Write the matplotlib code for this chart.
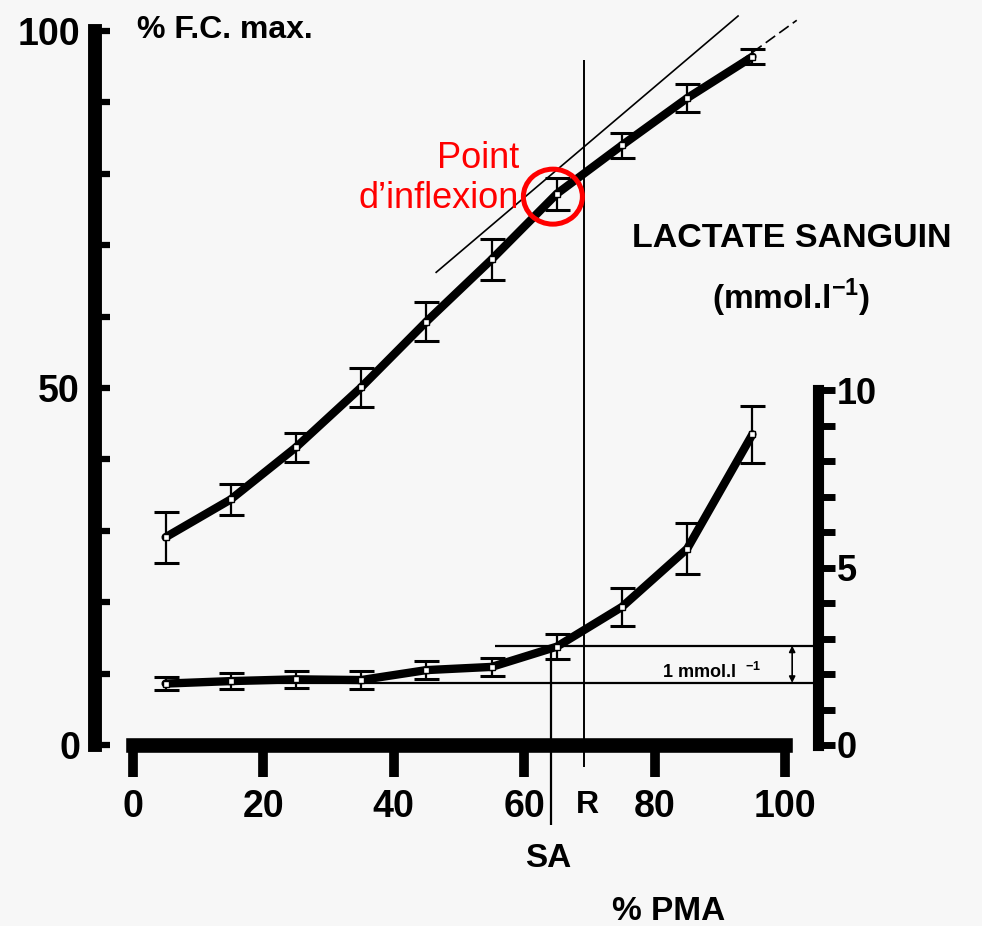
import matplotlib
matplotlib.use("Agg")
import matplotlib.pyplot as plt
from matplotlib.patches import Ellipse

# ---------------- data ----------------
pma = [5, 15, 25, 35, 45, 55, 65, 75, 85, 95]                       # % PMA
fc = [29.1, 34.4, 41.7, 50.1, 59.3, 68.0, 77.2, 84.0, 90.6, 96.4]  # % F.C. max.
fc_err = [3.6, 2.2, 2.0, 2.7, 2.7, 2.9, 2.2, 1.75, 2.0, 1.05]
lactate = [1.73, 1.80, 1.85, 1.83, 2.11, 2.20, 2.77, 3.89, 5.53, 8.75]  # mmol/l
lactate_err = [0.18, 0.23, 0.24, 0.25, 0.25, 0.25, 0.35, 0.54, 0.72, 0.80]

x_ticks = [0, 20, 40, 60, 80, 100]
fc_ticks = list(range(0, 101, 10))
fc_ticklabels = ['0', '', '', '', '', '50', '', '', '', '', '100']
lac_ticks = list(range(0, 11))
lac_ticklabels = ['0', '', '', '', '', '5', '', '', '', '', '10']

SA = 64.1          # seuil aérobie (% PMA)
R = 69.2           # rupture de pente (% PMA)
lac_low = 1.75     # base lactate level
lac_high = 2.8     # base + 1 mmol/l
tangent1_x = [46.5, 92.8]
tangent1_y = [66.2, 102.1]
tangent2_x = [66.0, 101.8]
tangent2_y = [77.8, 101.5]
inflexion_xy = (64.4, 76.8)

# ---------------- layout ----------------
W, H = 982, 926
plt.rcParams['font.family'] = ['Liberation Sans', 'DejaVu Sans']
plt.rcParams['font.weight'] = 'bold'
plt.rcParams['mathtext.fontset'] = 'custom'
plt.rcParams['mathtext.rm'] = 'Liberation Sans:bold'
plt.rcParams['mathtext.bf'] = 'Liberation Sans:bold'

BG = '#f7f7f7'
fig = plt.figure(figsize=(W / 100, H / 100), dpi=100, facecolor=BG)

px_x = 6.52    # pixels per % PMA
px_fc = 7.14   # pixels per % FC
px_lac = 35.5  # pixels per mmol/l
x0, y0 = 133, 745
right_px, top_px = 818, 3

ax = fig.add_axes([x0 / W, (H - y0) / H, (right_px - x0) / W, (y0 - top_px) / H])
ax.set_facecolor('none')
ax.set_xlim(0, (right_px - x0) / px_x)
ax.set_ylim(0, (y0 - top_px) / px_fc)

ax2 = ax.twinx()
ax2.set_ylim(0, (y0 - top_px) / px_lac)

def fp(px, py):
    return (px / W, 1 - py / H)

# spines
for s in ['top', 'right']:
    ax.spines[s].set_visible(False)
for s in ['top', 'left', 'bottom']:
    ax2.spines[s].set_visible(False)

ax.spines['left'].set_position(('outward', 27.4))
ax.spines['left'].set_bounds(0, 100)
ax.spines['left'].set_linewidth(10)
ax.spines['left'].set_capstyle('projecting')
ax.spines['bottom'].set_bounds(0, 100)
ax.spines['bottom'].set_linewidth(10.5)
ax2.spines['right'].set_bounds(0, 10)
ax2.spines['right'].set_linewidth(8)
ax2.spines['right'].set_capstyle('projecting')

ax.set_xticks(x_ticks)
ax.set_xticklabels([str(t) for t in x_ticks])
ax.tick_params(axis='x', direction='out', length=23, width=7, pad=9, labelsize=27)
ax.set_yticks(fc_ticks)
ax.set_yticklabels(fc_ticklabels)
ax.tick_params(axis='y', direction='in', length=11, width=4.5, pad=10.8, labelsize=27)
ax2.set_yticks(lac_ticks)
ax2.set_yticklabels(lac_ticklabels)
ax2.tick_params(axis='y', direction='out', length=12, width=5, pad=1.5, labelsize=26)

# ---------------- curves ----------------
ax.errorbar(pma, fc, yerr=fc_err, fmt='none', ecolor='k', elinewidth=1.6,
            capsize=9, capthick=2.2, zorder=3)
ax.plot(pma, fc, color='k', lw=6, solid_joinstyle='round', solid_capstyle='round', zorder=4)
ax.plot(pma, fc, 's', ms=4.5, mfc='white', mec='k', mew=1.0, zorder=5)

ax2.errorbar(pma, lactate, yerr=lactate_err, fmt='none', ecolor='k', elinewidth=1.6,
             capsize=9, capthick=2.2, zorder=3)
ax2.plot(pma, lactate, color='k', lw=6, solid_joinstyle='round', solid_capstyle='round', zorder=4)
ax2.plot(pma, lactate, 's', ms=4.5, mfc='white', mec='k', mew=1.0, zorder=5)

# tangents
ax.plot(tangent1_x, tangent1_y, color='k', lw=1.2, clip_on=False)
ax.plot(tangent2_x, tangent2_y, color='k', lw=1.2, ls=(0, (7, 3)), clip_on=False)

# vertical lines SA and R
ax2.vlines(SA, -80 / px_lac, lac_high, color='k', lw=1.6, clip_on=False)
ax.vlines(R, -22 / px_fc, 95.9, color='k', lw=1.4, clip_on=False)

# horizontal lactate lines
xmax = (right_px - x0) / px_x
ax2.hlines(lac_low, 5, xmax, color='k', lw=1.6, zorder=2)
ax2.hlines(lac_high, 55.5, xmax, color='k', lw=1.6, zorder=2)
ax2.annotate('', xy=(101.1, lac_high), xytext=(101.1, lac_low),
             arrowprops=dict(arrowstyle='<|-|>', color='k', lw=1.2,
                             mutation_scale=9, shrinkA=0, shrinkB=0))

# inflexion circle
ax.add_patch(Ellipse(inflexion_xy, 59 / px_x, 55 / px_fc, fill=False,
                     edgecolor='#ff0000', lw=3.6, zorder=6))

# ---------------- texts ----------------
fig.text(*fp(137, 38), '% F.C. max.', fontsize=23, ha='left', va='baseline')
fig.text(*fp(632, 247), 'LACTATE SANGUIN', fontsize=24.5, ha='left', va='baseline')
fig.text(*fp(712, 309), r'(mmol.l$^{\mathbf{-1}}$)', fontsize=24, ha='left', va='baseline')
fig.text(*fp(662, 678), r'1 mmol.l  $^{-1}$', fontsize=13, ha='left', va='baseline')
fig.text(*fp(587, 813), 'R', fontsize=23, ha='center', va='baseline')
fig.text(*fp(548, 867), 'SA', fontsize=24, ha='center', va='baseline')
fig.text(*fp(612, 920), '% PMA', fontsize=24, ha='left', va='baseline')

fig.text(*fp(519, 168), 'Point', fontsize=26, ha='right', va='baseline',
         color='#ff0000', fontweight='normal')
fig.text(*fp(519, 208), 'd\u2019inflexion', fontsize=26, ha='right', va='baseline',
         color='#ff0000', fontweight='normal')

fig.savefig('out.png', dpi=100, facecolor=BG)
